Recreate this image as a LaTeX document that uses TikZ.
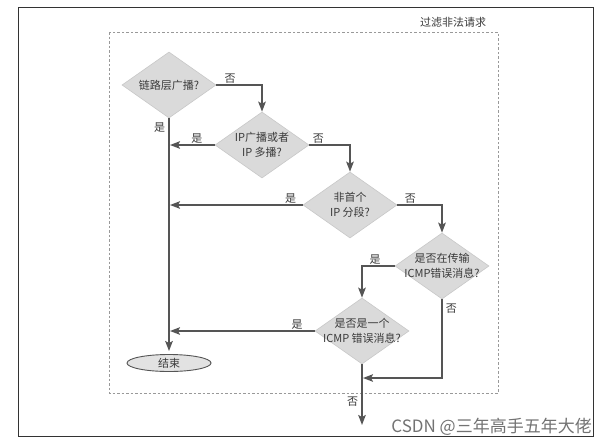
\documentclass[tikz,border=0pt]{standalone}
\usepackage{fontspec}
\newfontfamily\cjk{Noto Sans CJK SC}
\usetikzlibrary{shapes.geometric,arrows.meta}
\definecolor{ln}{HTML}{555555}
\definecolor{txt}{HTML}{3A3A3A}
\definecolor{df}{HTML}{DADADA}
\definecolor{db}{HTML}{C8C8C8}
\definecolor{ef}{HTML}{E2E2E2}
\begin{document}
\begin{tikzpicture}[x=1pt,y=-1pt,
  dia/.style={diamond, draw=db, fill=df, minimum width=94pt, minimum height=66pt, inner sep=0pt, line width=0.6pt},
  dtxt/.style={font=\cjk\fontsize{11}{14.5}\selectfont, text=txt, align=center, inner sep=0pt},
  arr/.style={draw=ln, line width=1.8pt, -{Stealth[length=10pt,width=7.5pt,inset=2pt]}},
  lab/.style={font=\cjk\fontsize{11}{12}\selectfont, text=txt, inner sep=1pt},
  endbox/.style={ellipse, draw=ln, fill=ef, line width=0.9pt, minimum width=84pt, minimum height=17pt, inner sep=0pt, font=\cjk\fontsize{11}{12}\selectfont, text=txt},
  framebox/.style={draw=black!80, line width=1pt},
  dashbox/.style={draw=black!40, line width=0.8pt, dash pattern=on 2.5pt off 2pt}
]
\useasboundingbox (0,0) rectangle (610,445);
\fill[white] (0,0) rectangle (610,445);
\draw[framebox] (18,7) rectangle (593,436);
\draw[dashbox] (109,32) rectangle (498,393);
\node[lab] (title) at (453,22) {过滤非法请求};

% decisions
\node[dia] (d1) at (169,85) {};
\node[dtxt] (t1) at (d1) {链路层广播?};
\node[dia] (d2) at (262,145) {};
\node[dtxt] (t2) at (d2) {IP广播或者\\IP 多播?};
\node[dia] (d3) at (350,205) {};
\node[dtxt] (t3) at (d3) {非首个\\IP 分段?};
\node[dia] (d4) at (442,266) {};
\node[dtxt] (t4) at (d4) {是否在传输\\ICMP错误消息?};
\node[dia] (d5) at (362,331) {};
\node[dtxt] (t5) at (d5) {是否是一个\\ICMP 错误消息?};
\node[endbox] (end) at (169,363) {结束};

\coordinate (m4) at (442,378);
\coordinate (exit) at (362,425);

% connectors
\draw[arr] (d1.east) -| (d2.north) node[lab, pos=0.15, above] (l1) {否};
\draw[arr, shorten >=3pt] (d1.south) -- (end.north) node[lab, pos=0.04, left=2pt] (l2) {是};
\draw[arr, shorten >=1pt] (d2.west) -- (d2.west -| d1.south) node[lab, pos=0.39, above] (l3) {是};
\draw[arr] (d2.east) -| (d3.north) node[lab, pos=0.11, above] (l4) {否};
\draw[arr, shorten >=1pt] (d3.west) -- (d3.west -| d1.south) node[lab, pos=0.09, above] (l5) {是};
\draw[arr] (d3.east) -| (d4.north) node[lab, pos=0.145, above] (l6) {否};
\draw[arr] (d4.west) -| (d5.north) node[lab, pos=0.3, above] (l7) {是};
\draw[arr, shorten >=1pt] (d4.south) |- (m4 -| d5.south) node[lab, pos=0.06, right=2pt] (l8) {否};
\draw[arr, shorten >=1pt] (d5.west) -- (d5.west -| d1.south) node[lab, pos=0.12, above] (l9) {是};
\draw[arr] (d5.south) -- (exit) node[lab, pos=0.62, left=2pt] (l10) {否};

\node[font=\cjk\fontsize{17}{17}\selectfont, text=black!55, anchor=east, inner sep=0pt] (wm) at (592,427) {CSDN @三年高手五年大佬};
\end{tikzpicture}
\end{document}
